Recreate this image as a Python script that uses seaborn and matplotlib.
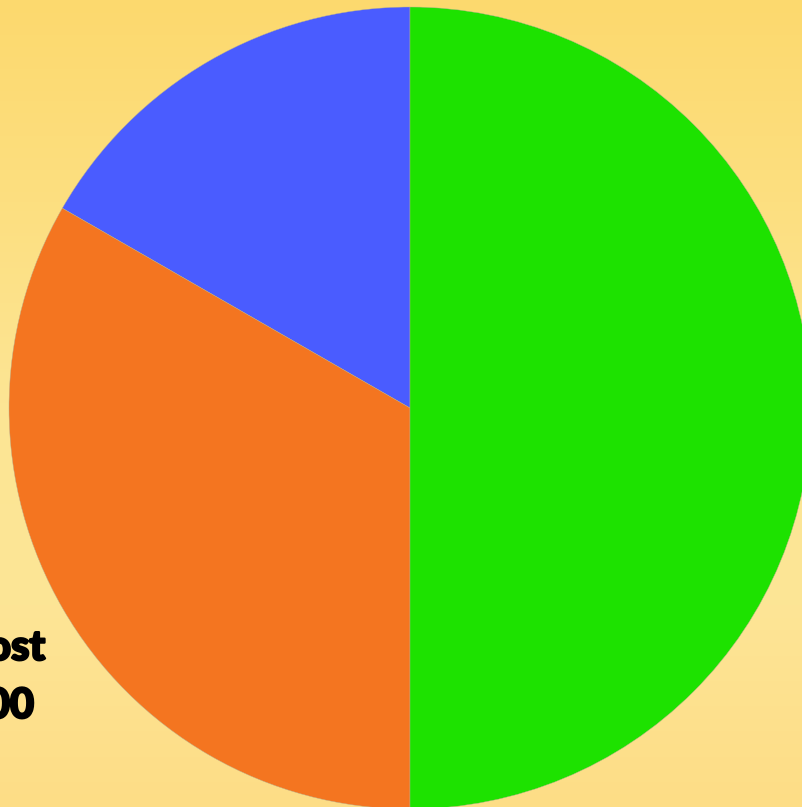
import matplotlib
matplotlib.use('Agg')
import matplotlib.pyplot as plt
import matplotlib.patheffects as pe
import numpy as np
import seaborn as sns
from matplotlib.colors import LinearSegmentedColormap

sns.set_theme(style='white')
plt.rcParams['font.family'] = ['Lato', 'DejaVu Sans']

# Data (share of the total)
categories = ['Blue', 'Orange', 'Green']
shares = [16.7, 33.3, 50.0]
colors = ['#4A5CFF', '#F47520', '#1DE200']
label_lines = ['ost', '00']

W, H = 803, 807
fig = plt.figure(figsize=(W / 100, H / 100), dpi=100)

# Yellow background gradient
bg = fig.add_axes([0, 0, 1, 1], zorder=0)
bg_cmap = LinearSegmentedColormap.from_list(
    'bg', ['#FCD96E', '#FDDF80', '#FCE594', '#FDE596', '#FDDD86'])
grad = np.linspace(0, 1, 256).reshape(-1, 1)
bg.imshow(grad, aspect='auto', cmap=bg_cmap, extent=[0, 1, 0, 1], origin='upper')
bg.set_axis_off()

# Pie axes: center ~ (410, 408) px, radius ~401 px
cx, cy, r = 410, 408, 401
ax = fig.add_axes([(cx - r) / W, (H - cy - r) / H, 2 * r / W, 2 * r / H], zorder=1)
ax.pie(shares, colors=sns.color_palette(colors), startangle=90,
       counterclock=True, radius=1,
       wedgeprops=dict(edgecolor='#B8B090', linewidth=0.3))
ax.set_xlim(-1, 1)
ax.set_ylim(-1, 1)
ax.set_aspect('equal')
ax.set_axis_off()

# Partly visible label at the left edge (stroke makes it look heavier)
heavy = [pe.withStroke(linewidth=1.6, foreground='black')]
fig.text(45 / W, 1 - 660 / H, label_lines[0], ha='right', va='baseline',
         fontsize=30, fontweight='black', color='black', zorder=3,
         path_effects=heavy)
fig.text(34 / W, 1 - 718 / H, label_lines[1], ha='right', va='baseline',
         fontsize=30, fontweight='black', color='black', zorder=3,
         path_effects=heavy)

fig.savefig('out.png', dpi=100)
